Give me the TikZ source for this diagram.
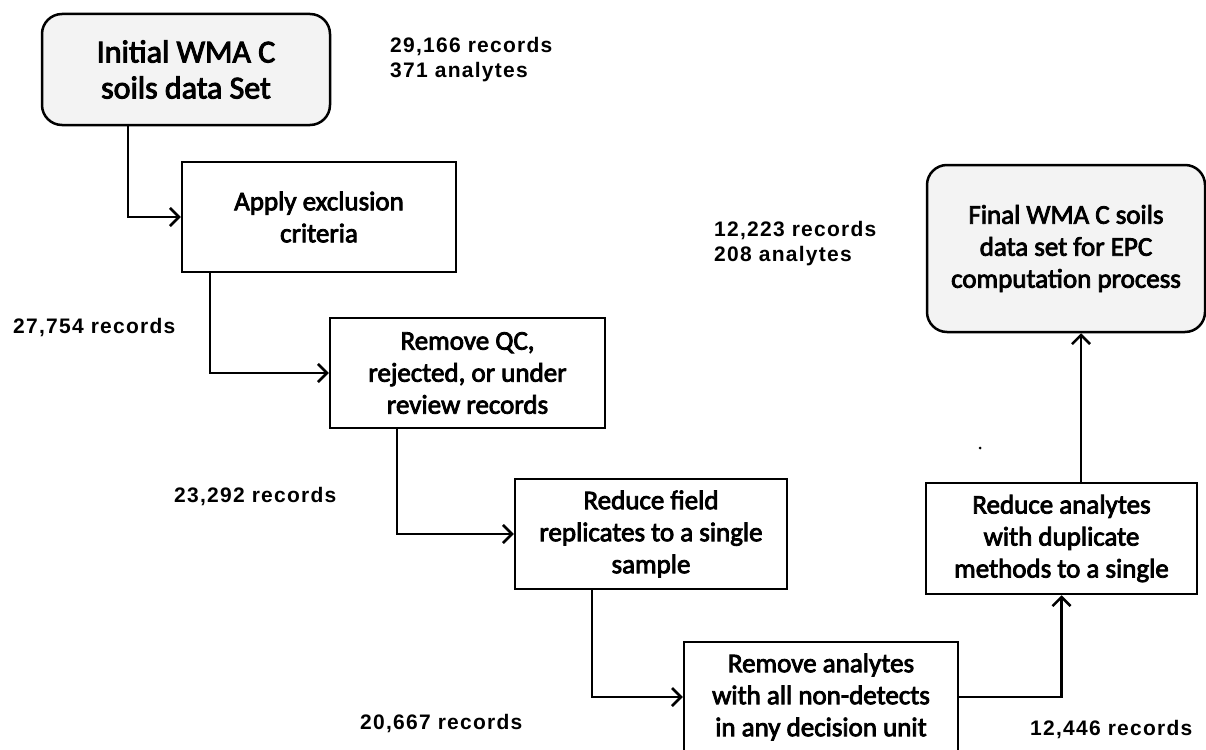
\documentclass[tikz,border=0pt]{standalone}
\usepackage{fontspec}
\setmainfont{Carlito}
\newfontfamily\boxfont{Carlito}[FakeBold=3]
\newfontfamily\labfont{Liberation Sans}[LetterSpace=6]
\usetikzlibrary{arrows.meta}
\definecolor{boxgray}{HTML}{F3F3F3}
\begin{document}
\begin{tikzpicture}[x=1pt,y=-1pt,
  stepbox/.style={draw=black, line width=2.5pt, align=center, inner sep=0pt,
    font=\boxfont\fontsize{27}{32}\selectfont},
  endbox/.style={stepbox, rounded corners=20pt, fill=boxgray},
  lab/.style={anchor=west, align=left, inner sep=0pt,
    font=\labfont\bfseries\fontsize{21}{25}\selectfont},
  arr/.style={line width=2.5pt, -{Straight Barb[length=9pt,width=18pt,line width=2.5pt]}}]
\useasboundingbox (0,0) rectangle (1206,749);

\node[endbox, minimum width=288pt, minimum height=111pt, font=\boxfont\fontsize{32}{36}\selectfont]
  (init) at (186,69.5) {Initial WMA C\\soils data Set};
\node[stepbox, minimum width=274pt, minimum height=110pt] (apply) at (319,217)
  {Apply exclusion\\criteria};
\node[stepbox, minimum width=275pt, minimum height=110pt] (rqc) at (467.5,373)
  {Remove QC,\\rejected, or under\\review records};
\node[stepbox, minimum width=272pt, minimum height=110pt] (rf) at (651,534)
  {Reduce field\\replicates to a single\\sample};
\node[stepbox, minimum width=274pt, minimum height=110pt] (ra) at (821,697)
  {Remove analytes\\with all non-detects\\in any decision unit};
\node[stepbox, minimum width=271pt, minimum height=111pt] (rd) at (1061.5,538.5)
  {Reduce analytes\\with duplicate\\methods to a single};
\node[endbox, minimum width=278pt, minimum height=167pt] (final) at (1066,248.5)
  {Final WMA C soils\\data set for EPC\\computation process};

\node[lab] (l1) at (390,60) {29,166 records\\371 analytes};
\node[lab] (l2) at (13,328) {27,754 records};
\node[lab] (l3) at (174,497) {23,292 records};
\node[lab] (l4) at (360,724) {20,667 records};
\node[lab] (l5) at (1030,730) {12,446 records};
\node[lab] (l6) at (714,244) {12,223 records\\208 analytes};
\fill (980,448) circle[radius=1.5pt];

\coordinate (c1) at (128,0);
\coordinate (c2) at (210,0);
\coordinate (c3) at (397,0);
\coordinate (c4) at (592,0);
\coordinate (c6) at (1081,0);

\draw[arr] (init.south -| c1) |- (apply.west);
\draw[arr] (apply.south -| c2) |- (rqc.west);
\draw[arr] (rqc.south -| c3) |- (rf.west);
\draw[arr] (rf.south -| c4) |- (ra.west);
\draw[arr] (ra.east) -| (rd.south);
\draw[arr] (rd.north -| c6) -- (final.south -| c6);
\end{tikzpicture}
\end{document}
